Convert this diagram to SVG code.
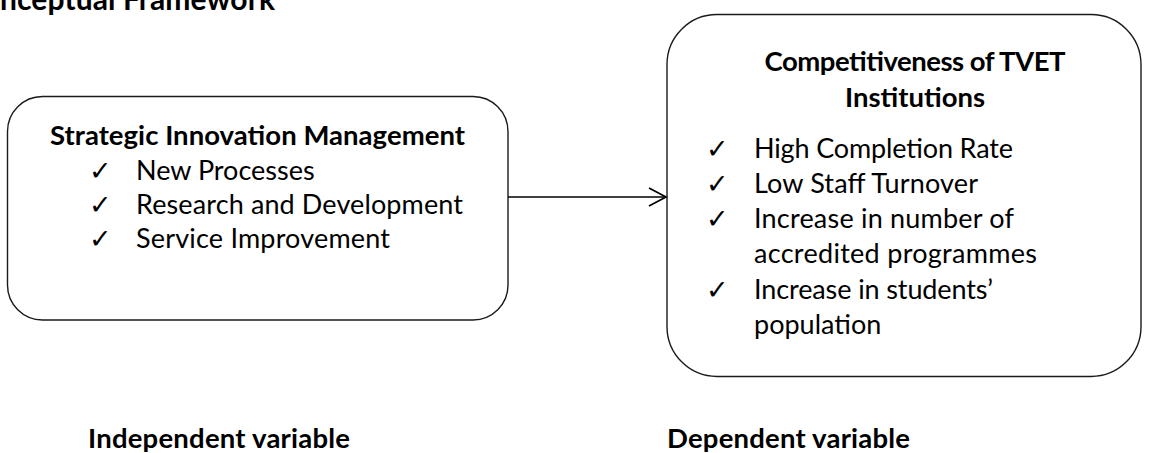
<svg xmlns="http://www.w3.org/2000/svg" width="1149" height="453" viewBox="0 0 1149 453">
<style>
  .box { fill: #ffffff; stroke: #1a1a1a; stroke-width: 1.4; }
  .t { font-family: Lato, "Open Sans", "Liberation Sans", sans-serif; fill: #000; }
  .b { font-weight: bold; font-size: 27.5px; }
  .i { font-size: 27px; }
  .ck { font-family: "DejaVu Sans", sans-serif; font-size: 27px; fill: #000; }
  .conn { stroke: #000; stroke-width: 1.7; fill: none; }
</style>
<rect width="1149" height="453" fill="#ffffff"/>
<text id="title" class="t b" x="0" y="10" style="font-size:30px" textLength="275">nceptual Framework</text>

<g id="node-independent">
  <rect class="box" x="7.5" y="96.5" width="500.5" height="223.5" rx="35" ry="35"/>
  <text class="t b" x="50" y="145" textLength="415">Strategic Innovation Management</text>
  <text class="ck" x="89" y="180">✓</text>
  <text class="t i" x="136" y="180">New Processes</text>
  <text class="ck" x="89" y="214">✓</text>
  <text class="t i" x="136" y="214" textLength="327">Research and Development</text>
  <text class="ck" x="89" y="248">✓</text>
  <text class="t i" x="136" y="248" textLength="254">Service Improvement</text>
</g>

<g id="node-dependent">
  <rect class="box" x="667" y="14.5" width="474" height="362" rx="50" ry="50"/>
  <text class="t b" x="915" y="71" text-anchor="middle" textLength="301">Competitiveness of TVET</text>
  <text class="t b" x="915" y="107" text-anchor="middle">Institutions</text>
  <text class="ck" x="706" y="158">✓</text>
  <text class="t i" x="754" y="158" textLength="259">High Completion Rate</text>
  <text class="ck" x="706" y="193">✓</text>
  <text class="t i" x="754" y="193" textLength="224">Low Staff Turnover</text>
  <text class="ck" x="706" y="228">✓</text>
  <text class="t i" x="754" y="228" textLength="260">Increase in number of</text>
  <text class="t i" x="754" y="263" textLength="283">accredited programmes</text>
  <text class="ck" x="706" y="299">✓</text>
  <text class="t i" x="754" y="299" textLength="239">Increase in students’</text>
  <text class="t i" x="754" y="334">population</text>
</g>

<g id="connectors">
  <line class="conn" x1="508" y1="197" x2="666" y2="197"/>
  <polyline class="conn" points="649,188 666,197 649,206"/>
</g>

<text id="label-independent" class="t b" x="88" y="448" textLength="262">Independent variable</text>
<text id="label-dependent" class="t b" x="667" y="448" textLength="243">Dependent variable</text>
</svg>
